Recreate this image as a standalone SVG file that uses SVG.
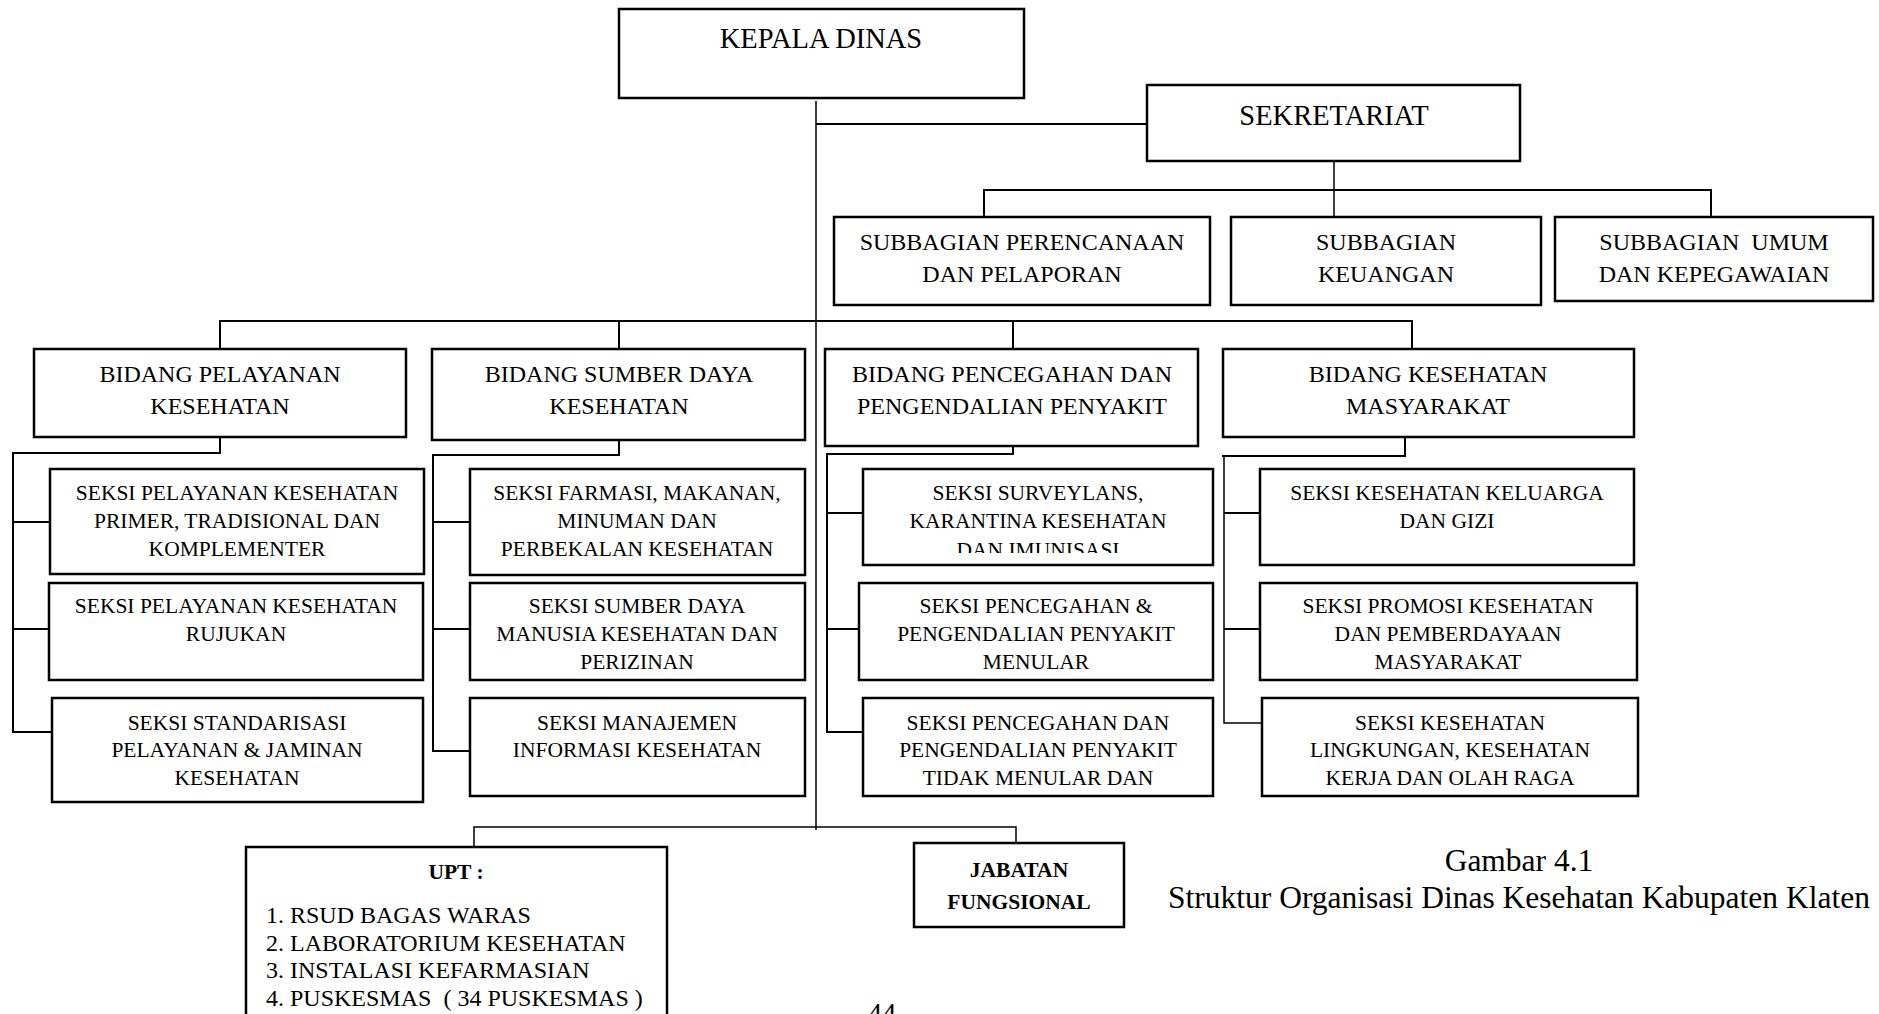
<svg xmlns="http://www.w3.org/2000/svg" width="1879" height="1014" viewBox="0 0 1879 1014">
<style>
.box{fill:#fff;stroke:#000;stroke-width:2.5}
.ln{fill:none;stroke:#000;stroke-width:2}
.thin{fill:none;stroke:#000;stroke-width:1.5}
text{font-family:"Liberation Serif","Times New Roman",serif;fill:#000;text-anchor:middle}
.t28{font-size:28.5px}
.t24{font-size:24px}
.t21{font-size:21.5px}
.b{font-weight:bold}
.l{text-anchor:start}
</style>
<defs>
<clipPath id="clipSurv"><rect x="863" y="469" width="350" height="84"/></clipPath>
</defs>
<rect width="1879" height="1014" fill="#fff"/>
<g id="connectors">
<path class="thin" d="M816 101V830"/>
<path class="ln" d="M816 124H1147"/>
<path class="thin" d="M1334 161V217"/>
<path class="ln" d="M984 217V190H1711V217"/>
<path class="ln" d="M220 349V321H1412V349"/>
<path class="ln" d="M619 321V349"/>
<path class="ln" d="M1013 321V349"/>
<path class="ln" d="M220 437V453H13V732H52"/>
<path class="ln" d="M13 522H50"/>
<path class="ln" d="M13 629H49"/>
<path class="ln" d="M619 440V455H433V751H470"/>
<path class="ln" d="M433 522H470"/>
<path class="ln" d="M433 629H470"/>
<path class="ln" d="M1013 446V454H827V732H863"/>
<path class="ln" d="M827 513H863"/>
<path class="ln" d="M827 629H859"/>
<path class="ln" d="M1405 437V456H1222"/>
<path class="thin" d="M1224 456V723H1262"/>
<path class="ln" d="M1224 513H1260"/>
<path class="ln" d="M1224 629H1260"/>
<path class="thin" d="M474 847V827H1016V843"/>
</g>
<g id="kepala-dinas">
<rect class="box" x="619" y="9" width="405" height="89"/>
<text class="t28" x="821" y="48">KEPALA DINAS</text>
</g>
<g id="sekretariat">
<rect class="box" x="1147" y="85" width="373" height="76"/>
<text class="t28" x="1334" y="125">SEKRETARIAT</text>
</g>
<g id="subbagian-perencanaan">
<rect class="box" x="834" y="217" width="376" height="88"/>
<text class="t24" x="1022" y="250">SUBBAGIAN PERENCANAAN</text>
<text class="t24" x="1022" y="282">DAN PELAPORAN</text>
</g>
<g id="subbagian-keuangan">
<rect class="box" x="1231" y="217" width="310" height="88"/>
<text class="t24" x="1386" y="250">SUBBAGIAN</text>
<text class="t24" x="1386" y="282">KEUANGAN</text>
</g>
<g id="subbagian-umum">
<rect class="box" x="1555" y="217" width="318" height="84"/>
<text class="t24" x="1714" y="250">SUBBAGIAN&#160; UMUM</text>
<text class="t24" x="1714" y="282">DAN KEPEGAWAIAN</text>
</g>
<g id="bidang-pelayanan">
<rect class="box" x="34" y="349" width="372" height="88"/>
<text class="t24" x="220" y="382">BIDANG PELAYANAN</text>
<text class="t24" x="220" y="414">KESEHATAN</text>
</g>
<g id="bidang-sumber-daya">
<rect class="box" x="432" y="349" width="373" height="91"/>
<text class="t24" x="619" y="382">BIDANG SUMBER DAYA</text>
<text class="t24" x="619" y="414">KESEHATAN</text>
</g>
<g id="bidang-pencegahan">
<rect class="box" x="825" y="349" width="373" height="97"/>
<text class="t24" x="1012" y="382">BIDANG PENCEGAHAN DAN</text>
<text class="t24" x="1012" y="414">PENGENDALIAN PENYAKIT</text>
</g>
<g id="bidang-kesmas">
<rect class="box" x="1223" y="349" width="411" height="88"/>
<text class="t24" x="1428" y="382">BIDANG KESEHATAN</text>
<text class="t24" x="1428" y="414">MASYARAKAT</text>
</g>
<g id="seksi-primer">
<rect class="box" x="50" y="469" width="374" height="105"/>
<text class="t21" x="237" y="500">SEKSI PELAYANAN KESEHATAN</text>
<text class="t21" x="237" y="528">PRIMER, TRADISIONAL DAN</text>
<text class="t21" x="237" y="556">KOMPLEMENTER</text>
</g>
<g id="seksi-rujukan">
<rect class="box" x="49" y="583" width="374" height="97"/>
<text class="t21" x="236" y="613">SEKSI PELAYANAN KESEHATAN</text>
<text class="t21" x="236" y="641">RUJUKAN</text>
</g>
<g id="seksi-standarisasi">
<rect class="box" x="52" y="698" width="371" height="104"/>
<text class="t21" x="237" y="730">SEKSI STANDARISASI</text>
<text class="t21" x="237" y="757">PELAYANAN &amp; JAMINAN</text>
<text class="t21" x="237" y="785">KESEHATAN</text>
</g>
<g id="seksi-farmasi">
<rect class="box" x="470" y="469" width="335" height="106"/>
<text class="t21" x="637" y="500">SEKSI FARMASI, MAKANAN,</text>
<text class="t21" x="637" y="528">MINUMAN DAN</text>
<text class="t21" x="637" y="556">PERBEKALAN KESEHATAN</text>
</g>
<g id="seksi-sdm">
<rect class="box" x="470" y="583" width="335" height="97"/>
<text class="t21" x="637" y="613">SEKSI SUMBER DAYA</text>
<text class="t21" x="637" y="641">MANUSIA KESEHATAN DAN</text>
<text class="t21" x="637" y="669">PERIZINAN</text>
</g>
<g id="seksi-manajemen">
<rect class="box" x="470" y="698" width="335" height="98"/>
<text class="t21" x="637" y="730">SEKSI MANAJEMEN</text>
<text class="t21" x="637" y="757">INFORMASI KESEHATAN</text>
</g>
<g id="seksi-surveylans">
<rect class="box" x="863" y="469" width="350" height="96"/>
<text class="t21" x="1038" y="500">SEKSI SURVEYLANS,</text>
<text class="t21" x="1038" y="528">KARANTINA KESEHATAN</text>
<text class="t21" x="1038" y="557" clip-path="url(#clipSurv)">DAN IMUNISASI</text>
</g>
<g id="seksi-menular">
<rect class="box" x="859" y="583" width="354" height="97"/>
<text class="t21" x="1036" y="613">SEKSI PENCEGAHAN &amp;</text>
<text class="t21" x="1036" y="641">PENGENDALIAN PENYAKIT</text>
<text class="t21" x="1036" y="669">MENULAR</text>
</g>
<g id="seksi-ptm">
<rect class="box" x="863" y="698" width="350" height="98"/>
<text class="t21" x="1038" y="730">SEKSI PENCEGAHAN DAN</text>
<text class="t21" x="1038" y="757">PENGENDALIAN PENYAKIT</text>
<text class="t21" x="1038" y="785">TIDAK MENULAR DAN</text>
</g>
<g id="seksi-keluarga">
<rect class="box" x="1260" y="469" width="374" height="96"/>
<text class="t21" x="1447" y="500">SEKSI KESEHATAN KELUARGA</text>
<text class="t21" x="1447" y="528">DAN GIZI</text>
</g>
<g id="seksi-promosi">
<rect class="box" x="1260" y="583" width="377" height="97"/>
<text class="t21" x="1448" y="613">SEKSI PROMOSI KESEHATAN</text>
<text class="t21" x="1448" y="641">DAN PEMBERDAYAAN</text>
<text class="t21" x="1448" y="669">MASYARAKAT</text>
</g>
<g id="seksi-kesling">
<rect class="box" x="1262" y="698" width="376" height="98"/>
<text class="t21" x="1450" y="730">SEKSI KESEHATAN</text>
<text class="t21" x="1450" y="757">LINGKUNGAN, KESEHATAN</text>
<text class="t21" x="1450" y="785">KERJA DAN OLAH RAGA</text>
</g>
<g id="upt">
<rect class="box" x="246" y="847" width="421" height="190"/>
<text class="t21 b" x="456" y="879">UPT :</text>
<text class="t24 l" x="266" y="923">1. RSUD BAGAS WARAS</text>
<text class="t24 l" x="266" y="951">2. LABORATORIUM KESEHATAN</text>
<text class="t24 l" x="266" y="978">3. INSTALASI KEFARMASIAN</text>
<text class="t24 l" x="266" y="1006">4. PUSKESMAS&#160; ( 34 PUSKESMAS )</text>
</g>
<g id="jabatan-fungsional">
<rect class="box" x="914" y="843" width="210" height="84"/>
<text class="t21 b" x="1019" y="877">JABATAN</text>
<text class="t21 b" x="1019" y="909">FUNGSIONAL</text>
</g>
<g id="caption">
<text style="font-size:31.5px" x="1519" y="871">Gambar 4.1</text>
<text style="font-size:31.5px" x="1519" y="908">Struktur Organisasi Dinas Kesehatan Kabupaten Klaten</text>
</g>
<text class="t28" x="882" y="1023">44</text>
</svg>
